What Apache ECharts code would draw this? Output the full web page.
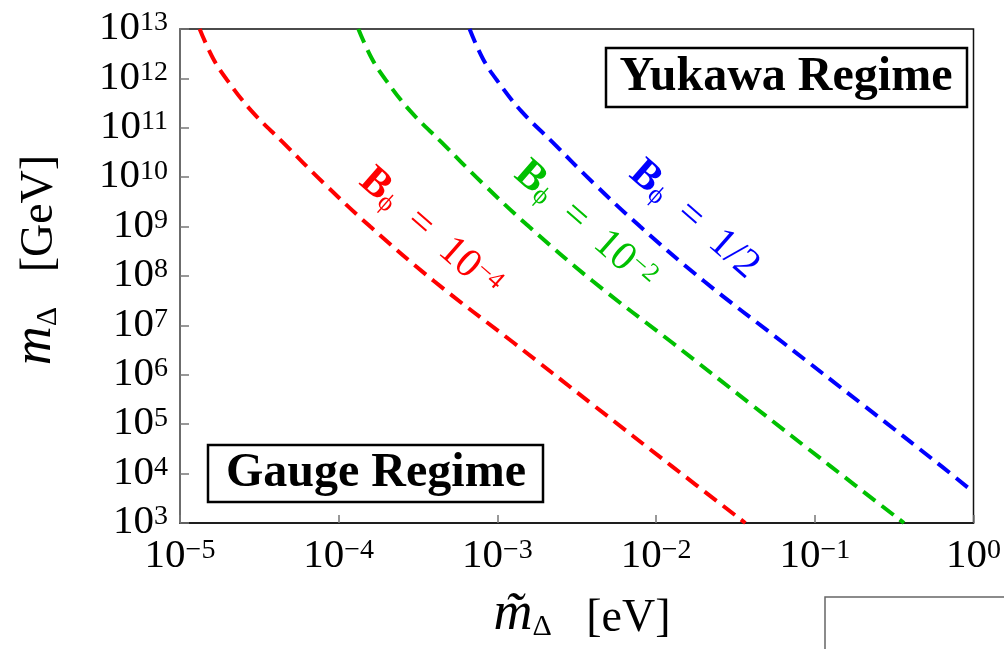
<!DOCTYPE html>
<html>
<head>
<meta charset="utf-8">
<script src="https://cdn.jsdelivr.net/npm/echarts@6/dist/echarts.min.js"></script>
<style>
  html, body { margin: 0; padding: 0; background: #fff; }
  #chart { width: 1004px; height: 649px; }
</style>
</head>
<body>
<div id="chart"></div>
<script>
// m~_Delta [eV] vs m_Delta [GeV]
var redX = [1.33e-5, 1.62e-5, 2.0e-5, 2.82e-5, 4.47e-5, 7.94e-5, 1.58e-4, 3.98e-4, 1.26e-3, 3.98e-3, 1.26e-2, 3.65e-2];
var redY = [1e13, 2.5e12, 8.9e11, 2.2e11, 5.0e10, 7.9e9, 1.0e9, 7.9e7, 4.5e6, 2.5e5, 1.4e4, 1e3];

var greenX = [1.33e-4, 1.62e-4, 2.0e-4, 2.82e-4, 4.47e-4, 7.94e-4, 1.58e-3, 3.98e-3, 1.26e-2, 3.98e-2, 0.126, 0.365];
var greenY = [1e13, 2.5e12, 8.9e11, 2.2e11, 5.0e10, 7.9e9, 1.0e9, 7.9e7, 4.5e6, 2.5e5, 1.4e4, 1e3];

var blueX = [6.68e-4, 8.1e-4, 1.0e-3, 1.41e-3, 2.24e-3, 3.98e-3, 7.94e-3, 2.0e-2, 6.3e-2, 0.2, 0.63, 1.0];
var blueY = [1e13, 2.5e12, 8.9e11, 2.2e11, 5.0e10, 7.9e9, 1.0e9, 7.9e7, 4.5e6, 2.5e5, 1.4e4, 4.2e3];

var serif = '"Liberation Serif", "DejaVu Serif", serif';

function pairs(xs, ys) {
  return xs.map(function (x, i) { return [x, ys[i]]; });
}

function powLabel(v) {
  var e = Math.round(Math.log10(v));
  return '{b|10}{s|' + (e < 0 ? '\u2212' + (-e) : e) + '}';
}

var tickRich = {
  b: { fontFamily: serif, fontSize: 41, color: '#000', verticalAlign: 'bottom', lineHeight: 40 },
  s: { fontFamily: serif, fontSize: 28, color: '#000', verticalAlign: 'top', lineHeight: 26 }
};

function curve(name, data, color) {
  return {
    name: name,
    type: 'line',
    data: data,
    smooth: 0.4,
    symbol: 'none',
    lineStyle: { color: color, width: 4, type: [15, 8] },
    z: 3
  };
}

function curveLabel(text, x, y, color) {
  return {
    type: 'text',
    x: x, y: y,
    rotation: -0.72,
    z: 10,
    style: {
      text: text,
      align: 'center',
      verticalAlign: 'middle',
      fill: color,
      rich: {
        B: { fontFamily: serif, fontWeight: 'bold', fontSize: 41, color: color, verticalAlign: 'bottom', lineHeight: 40 },
        p: { fontFamily: serif, fontSize: 26, color: color, verticalAlign: 'bottom', lineHeight: 32 },
        n: { fontFamily: serif, fontSize: 41, color: color, verticalAlign: 'bottom', lineHeight: 40 },
        s: { fontFamily: serif, fontSize: 26, color: color, verticalAlign: 'top', lineHeight: 24 }
      }
    }
  };
}

function axisTitle(text, x, y, rot) {
  return {
    type: 'text', x: x, y: y, rotation: rot, z: 21,
    style: {
      text: text,
      align: 'center', verticalAlign: 'middle',
      rich: {
        m: { fontFamily: serif, fontStyle: 'italic', fontSize: 54, color: '#000', verticalAlign: 'bottom', lineHeight: 50 },
        d: { fontFamily: serif, fontSize: 30, color: '#000', verticalAlign: 'bottom', lineHeight: 40 },
        n: { fontFamily: serif, fontSize: 46, color: '#000', verticalAlign: 'bottom', lineHeight: 50 }
      }
    }
  };
}

var chart = echarts.init(document.getElementById('chart'), null, { renderer: 'canvas' });

var option = {
  animation: false,
  backgroundColor: '#fff',
  grid: {
    left: 180, right: 25, top: 29, bottom: 126,
    show: true, borderColor: '#111', borderWidth: 1.5, backgroundColor: 'transparent'
  },
  xAxis: {
    type: 'log', logBase: 10, min: 1e-5, max: 1,
    splitNumber: 5,
    axisLine: { show: true, lineStyle: { color: '#111', width: 1.5 } },
    axisTick: { show: true, inside: true, length: 8, lineStyle: { color: '#777', width: 1.5 } },
    splitLine: { show: false },
    minorTick: { show: false },
    axisLabel: {
      margin: 14,
      formatter: powLabel,
      rich: tickRich,
      showMinLabel: true, showMaxLabel: true
    }
  },
  yAxis: {
    type: 'log', logBase: 10, min: 1e3, max: 1e13,
    splitNumber: 10,
    axisLine: { show: true, lineStyle: { color: '#777', width: 1.5 } },
    axisTick: { show: true, inside: true, length: 9, lineStyle: { color: '#777', width: 1.5 } },
    splitLine: { show: false },
    minorTick: { show: false },
    axisLabel: {
      margin: 12,
      formatter: powLabel,
      rich: tickRich,
      showMinLabel: true, showMaxLabel: true
    }
  },
  series: [
    curve('red', pairs(redX, redY), '#ff0000'),
    curve('green', pairs(greenX, greenY), '#00c000'),
    curve('blue', pairs(blueX, blueY), '#0000ff')
  ],
  graphic: [
    // regime boxes
    { type: 'rect', shape: { x: 606, y: 48, width: 361, height: 59 }, style: { fill: '#fff', stroke: '#000', lineWidth: 2.5 }, z: 20 },
    { type: 'text', x: 786, y: 78, z: 21, style: { text: 'Yukawa Regime', align: 'center', verticalAlign: 'middle', font: 'bold 48px ' + serif, fill: '#000' } },
    { type: 'rect', shape: { x: 208, y: 445, width: 335, height: 57 }, style: { fill: '#fff', stroke: '#000', lineWidth: 2.5 }, z: 20 },
    { type: 'text', x: 376, y: 474, z: 21, style: { text: 'Gauge Regime', align: 'center', verticalAlign: 'middle', font: 'bold 48px ' + serif, fill: '#000' } },

    // curve labels
    curveLabel('{B|B}{p|\u03d5}{n|  =  10}{s|\u22124}', 430, 233, '#ff0000'),
    curveLabel('{B|B}{p|\u03d5}{n|  =  10}{s|\u22122}', 585, 226, '#00c000'),
    curveLabel('{B|B}{p|\u03d5}{n|  =  1/2}', 694, 220, '#0000ff'),

    // axis titles
    axisTitle('{m|m\u0303}{d|\u0394}{n|   [eV]}', 582, 617, 0),
    axisTitle('{m|m}{d|\u0394}{n|   [GeV]}', 38, 260, Math.PI / 2),

    // stray frame at lower right
    { type: 'rect', shape: { x: 825, y: 597, width: 200, height: 80 }, style: { fill: 'none', stroke: '#666', lineWidth: 1.5 }, z: 5 }
  ]
};

chart.setOption(option);
</script>
</body>
</html>
